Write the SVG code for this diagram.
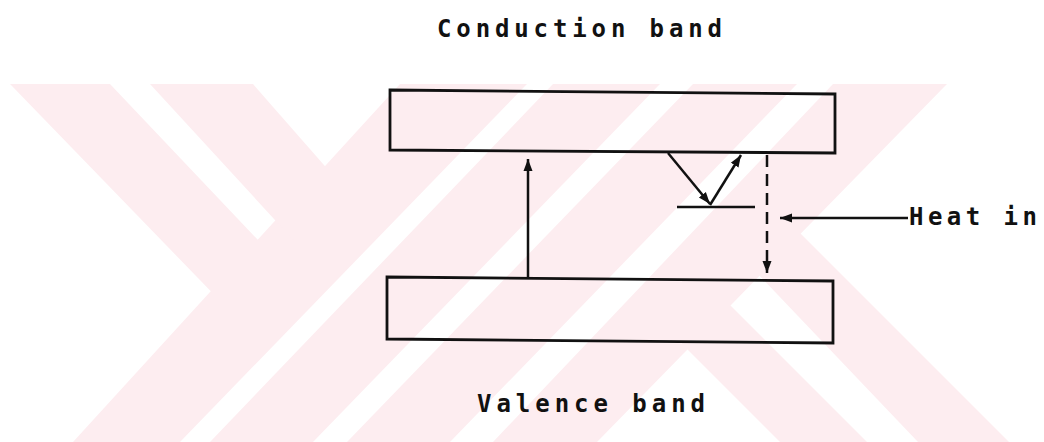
<svg xmlns="http://www.w3.org/2000/svg" width="1044" height="442" viewBox="0 0 1044 442">
  <style>
    .band { fill: none; stroke: #111; stroke-width: 2.8; stroke-linejoin: miter; }
    .lbl { font-family: "DejaVu Sans Mono", "Liberation Mono", monospace; font-size: 24px; font-weight: bold; fill: #111; }
    .wm { fill: #fdedf0; }
    .conn { fill: none; stroke: #111; stroke-width: 2.5; }
    .dash { stroke-dasharray: 12 7; }
  </style>
  <defs>
    <marker id="ah" markerUnits="userSpaceOnUse" markerWidth="13" markerHeight="11" refX="12" refY="5.5" orient="auto">
      <path d="M0,1 L12,5.5 L0,10 Z" fill="#111"/>
    </marker>
  </defs>
  <rect x="0" y="0" width="1044" height="442" fill="#ffffff"/>
  <g id="watermark">
    <polygon class="wm" points="400,84 527,84 180,442 73,442"/>
    <polygon class="wm" points="553,84 660,84 313,442 210,442"/>
    <polygon class="wm" points="693,84 797,84 450,442 347,442"/>
    <polygon class="wm" points="833,84 947,84 597,442 493,442"/>
    <polygon class="wm" points="10,84 110,84 276,259 228,309"/>
    <polygon class="wm" points="150,84 253,84 345,189 297,244"/>
    <polygon class="wm" points="638,300 725,300 867,442 780,442"/>
    <polygon class="wm" points="716,230 797,230 1009,442 918,442"/>
  </g>
  <g id="conduction-band">
    <polygon class="band" points="390,90 835,94 835,153 390,150"/>
    <text class="lbl" x="437" y="37" textLength="285" lengthAdjust="spacing">Conduction band</text>
  </g>
  <g id="valence-band">
    <polygon class="band" points="387,277 833,281 833,343 387,339"/>
    <text class="lbl" x="477" y="412" textLength="228" lengthAdjust="spacing">Valence band</text>
  </g>
  <g id="trap-level">
    <line x1="677" y1="207" x2="755" y2="207" stroke="#111" stroke-width="2.5"/>
  </g>
  <g id="heat-in">
    <text class="lbl" x="909" y="225" textLength="128" lengthAdjust="spacing">Heat in</text>
  </g>
  <g id="connectors">
    <line class="conn" x1="528" y1="278" x2="528" y2="159" marker-end="url(#ah)"/>
    <line class="conn" x1="668" y1="153" x2="710" y2="204" marker-end="url(#ah)"/>
    <line class="conn" x1="710" y1="205" x2="741" y2="155" marker-end="url(#ah)"/>
    <line class="conn dash" x1="767" y1="155" x2="767" y2="273" marker-end="url(#ah)"/>
    <line class="conn" x1="908" y1="218" x2="780" y2="218" marker-end="url(#ah)"/>
  </g>
</svg>
